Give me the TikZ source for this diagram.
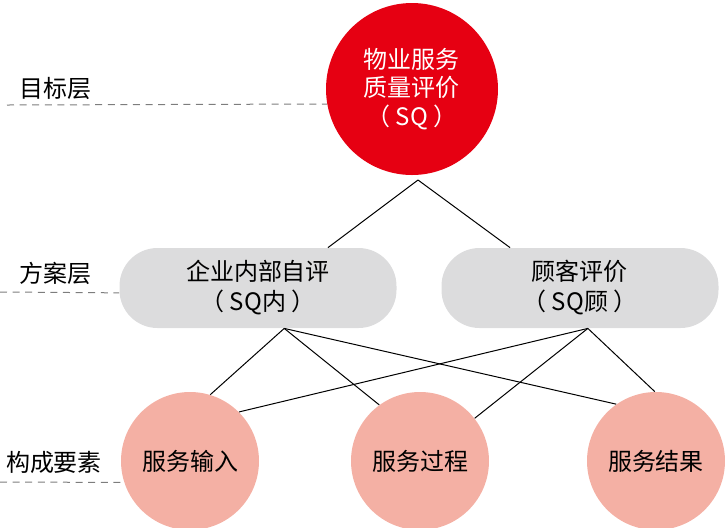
\documentclass[tikz,border=0pt]{standalone}
\usepackage{fontspec}
\setmainfont{Noto Sans CJK SC}
\usepackage{xcolor}
\usetikzlibrary{positioning}
\definecolor{rougeSQ}{RGB}{230,0,18}
\definecolor{grisplan}{RGB}{220,220,221}
\definecolor{roseelem}{RGB}{244,176,164}
\definecolor{gristiret}{RGB}{125,125,125}
\newcommand{\ecart}{\hspace{2.5pt}}

\begin{document}
\begin{tikzpicture}[
		x=0.5pt, y=-0.5pt,
		but/.style={circle, fill=rougeSQ, text=white, minimum size=86pt, inner sep=0pt, align=center, font=\fontsize{12}{14.25}\selectfont},
		plan/.style={rectangle, rounded corners=19pt, fill=grisplan, minimum width=138.5pt, minimum height=40pt, align=center, font=\fontsize{12}{15}\selectfont},
		elem/.style={circle, fill=roseelem, minimum size=69pt, inner sep=0pt, font=\fontsize{12}{14}\selectfont},
		niveau/.style={font=\fontsize{12}{14}\selectfont},
		lien/.style={draw, black, line width=0.5pt},
		tiret/.style={draw, gristiret, line width=0.5pt, dash pattern=on 3.5pt off 2.8pt}
		]
		\useasboundingbox (0,0) rectangle (725,527);
		
		% Les noeuds
		\node[but] (SQ) at (412, 89) {物业服务\\质量评价\\（\ecart SQ\ecart）};
		\node[plan] (Int) at (258, 288) {企业内部自评\\（\ecart SQ内\ecart）};
		\node[plan] (Cli) at (580, 288) {顾客评价\\（\ecart SQ顾\ecart）};
		\node[elem] (Ent) at (190, 461) {服务输入};
		\node[elem] (Pro) at (420, 461) {服务过程};
		\node[elem] (Res) at (656, 461) {服务结果};
		
		% Les niveaux
		\node[niveau] (N1) at (55, 88) {目标层};
		\node[niveau] (N2) at (55, 273) {方案层};
		\node[niveau] (N3) at (54, 462) {构成要素};
		\coordinate (T1) at (7, 105);
		\coordinate (T2) at (0, 292);
		\coordinate (T3) at (0, 482);
		\draw[tiret] (T1) -- (SQ.190);
		\draw[tiret] (T2) -- (Int.182);
		\draw[tiret] (T3) -- (Ent.198);
		
		% Les liens
		\coordinate (S) at (418, 180);
		\draw[lien] (S) -- (Int.30);
		\draw[lien] (S) -- (Cli.150);
		\draw[lien] (Int.-57) -- (Ent.73);
		\draw[lien] (Int.-57) -- (Pro.126);
		\draw[lien] (Int.-57) -- (Res.125);
		\draw[lien] (Cli.-79) -- (Ent.45);
		\draw[lien] (Cli.-79) -- (Pro.38);
		\draw[lien] (Cli.-79) -- (Res.91);
	\end{tikzpicture}
\end{document}
